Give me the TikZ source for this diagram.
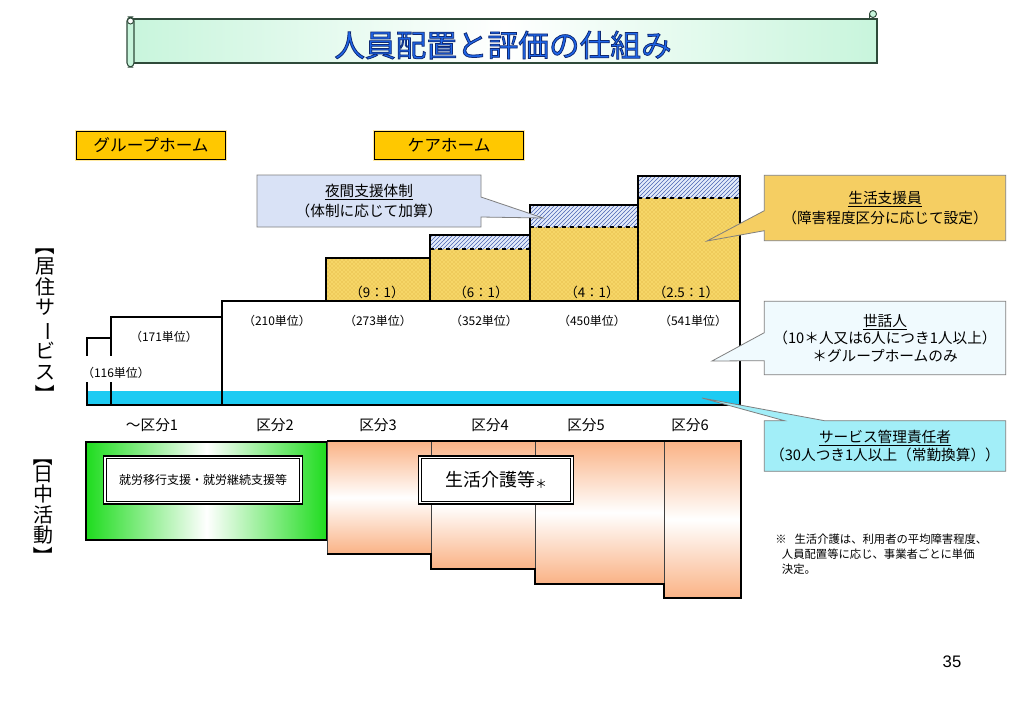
\documentclass[tikz,border=0pt]{standalone}
\usepackage{fontspec}
\setmainfont{Noto Sans CJK JP}
\newfontfamily\titlefont[FakeBold=2.5]{Noto Sans CJK JP}
\newfontfamily\arialfont{Liberation Sans}
\usetikzlibrary{shapes.callouts,patterns}
\definecolor{gold}{HTML}{FFC800}
\definecolor{goldin}{HTML}{FFE9A0}
\definecolor{mint}{HTML}{C8F5DC}
\definecolor{bannerline}{HTML}{2F4A3A}
\definecolor{titleblue}{HTML}{1E66EA}
\definecolor{cyanband}{HTML}{1DCBF3}
\definecolor{ybg}{HTML}{F6D667}
\definecolor{ydot}{HTML}{D8A736}
\definecolor{hbg}{HTML}{E4ECFA}
\definecolor{hline}{HTML}{4A64B4}
\definecolor{nightfill}{HTML}{D9E2F6}
\definecolor{lifefill}{HTML}{F5CE62}
\definecolor{carefill}{HTML}{F0FAFE}
\definecolor{svcfill}{HTML}{A2EEF8}
\definecolor{peach}{HTML}{FAB285}
\definecolor{grn}{HTML}{1EDC1E}
\definecolor{callline}{HTML}{7F7F7F}
\newcommand{\outlinedtitle}[1]{\textcolor{titleblue}{\special{pdf:literal direct 0.06 0.16 0.45 RG}#1}}
\begin{document}
\begin{tikzpicture}[x=0.75pt,y=-0.75pt,
  labelbox/.style={draw=black, double=goldin, double distance=0.9pt, fill=gold, inner sep=0pt,
    minimum width=113pt, minimum height=22pt, font=\fontsize{12.5}{14}\selectfont},
  unitlbl/.style={font=\fontsize{9}{10}\selectfont},
  ratiolbl/.style={font=\fontsize{10}{12}\selectfont},
  kubun/.style={font=\fontsize{11}{13}\selectfont},
  callbox/.style={rectangle callout, draw=callline, line width=0.6pt, align=center, inner sep=0pt},
  thickline/.style={line width=2.2pt, line cap=rect},
  colline/.style={line width=1.3pt},
  whitebox/.style={draw=black, line width=0.9pt, double=white, double distance=1.2pt, fill=white, inner sep=0pt},
  vlabel/.style={font=\fontsize{15}{15.4}\selectfont, align=center, inner sep=0pt},
  vbracket/.style={font=\fontsize{15}{15}\selectfont, inner sep=0pt}
]
\useasboundingbox (0,0) rectangle (1023,708);
\fill[white] (0,0) rectangle (1023,708);

% ---------- banner ----------
\path[draw=bannerline, line width=0.8pt, left color=mint, right color=mint, middle color=white]
  (131,19) rectangle (877,63);
\path[draw=bannerline, line width=0.8pt, fill=mint, rounded corners=3pt] (127,17) rectangle (134,67);
\draw[bannerline, line width=0.7pt, fill=white] (130.5,21) circle (3);
\draw[bannerline, line width=0.7pt, fill=mint] (873,14) circle (3.5);
\draw[bannerline, line width=0.7pt] (869.5,14) -- (869.5,19);
\node[font=\titlefont\fontsize{23}{27}\selectfont] (title) at (503,45) {\outlinedtitle{人員配置と評価の仕組み}};

% ---------- type labels ----------
\node[labelbox] (gh) at (151,145.5) {グループホーム};
\node[labelbox] (ch) at (449,145.5) {ケアホーム};

% ---------- chart ----------
\fill[cyanband] (87,391) rectangle (740,405);
% yellow columns
\foreach \xa/\xb/\yt in {326/430/258, 430/530/249, 530/638/227, 638/740/198}{
  \fill[ybg] (\xa,\yt) rectangle (\xb,301);
  \fill[pattern=crosshatch dots, pattern color=ydot] (\xa,\yt) rectangle (\xb,301);
}
% hatched (night support)
\foreach \xa/\xb/\yt/\yb in {430/530/235/249, 530/638/205/227, 638/740/176/198}{
  \fill[hbg] (\xa,\yt) rectangle (\xb,\yb);
  \fill[pattern=north east lines, pattern color=hline] (\xa,\yt) rectangle (\xb,\yb);
  \draw[dashed, line width=0.8pt] (\xa,\yb) -- (\xb,\yb);
}
\draw[colline] (430,235) -- (430,301);
\draw[colline] (530,205) -- (530,301);
\draw[colline] (638,176) -- (638,301);
% outline
\draw[thickline, line join=miter] (222,405) -- (222,301) -- (326,301) -- (326,258) -- (430,258) -- (430,235)
  -- (530,235) -- (530,205) -- (638,205) -- (638,176) -- (740,176) -- (740,405);
\draw[thickline] (222,301) -- (740,301);
\draw[thickline] (87,405) -- (740,405);
\draw[thickline, line join=miter] (111,355) -- (111,317) -- (222,317);
\draw[thickline] (111,383) -- (111,405);
\draw[thickline, line join=miter] (87,355) -- (87,338) -- (111,338);
\draw[thickline] (87,383) -- (87,405);

% ratio labels
\node[ratiolbl] (r1) at (377,292) {（9：1）};
\node[ratiolbl] (r2) at (481,292) {（6：1）};
\node[ratiolbl] (r3) at (592,292) {（4：1）};
\node[ratiolbl] (r4) at (686,292) {（2.5：1）};
% unit labels
\node[unitlbl] (u116) at (116,373) {（116単位）};
\node[unitlbl] (u171) at (164,337) {（171単位）};
\node[unitlbl] (u210) at (277,321) {（210単位）};
\node[unitlbl] (u273) at (378,321) {（273単位）};
\node[unitlbl] (u352) at (484,321) {（352単位）};
\node[unitlbl] (u450) at (592,321) {（450単位）};
\node[unitlbl] (u541) at (693,321) {（541単位）};
% kubun labels
\node[kubun] (k1) at (152,425) {～区分1};
\node[kubun] (k2) at (275,425) {区分2};
\node[kubun] (k3) at (378,425) {区分3};
\node[kubun] (k4) at (490,425) {区分4};
\node[kubun] (k5) at (586,425) {区分5};
\node[kubun] (k6) at (690,425) {区分6};

% ---------- left vertical labels ----------
\node[vlabel] (res) at (45,319) {居\\住\\サ\\\rotatebox[origin=c]{-90}{ー}\\ビ\\ス};
\node[vbracket] (resa) at (45,245) {\rotatebox{-90}{【}};
\node[vbracket] (resb) at (45,394) {\rotatebox{-90}{】}};
\node[vlabel] (day) at (43,505) {日\\中\\活\\動};
\node[vbracket] (daya) at (43,456) {\rotatebox{-90}{【}};
\node[vbracket] (dayb) at (43,556) {\rotatebox{-90}{】}};

% ---------- day activity ----------
\path[draw=black, line width=1.5pt, left color=grn, right color=grn, middle color=white] (86,442) rectangle (327,540);
\foreach \xa/\xb/\yb in {327/431/554, 431/535/569, 535/664/584, 664/741/598}{
  \path[draw=black!75, line width=0.6pt, top color=peach, bottom color=peach, middle color=white] (\xa,441) rectangle (\xb,\yb);
}
\draw[line width=1.6pt, line join=miter] (327,554) -- (431,554) -- (431,569) -- (535,569) -- (535,584) -- (664,584) -- (664,598) -- (741,598) -- (741,441) -- (327,441);
\draw[line width=1.5pt] (86,442) -- (327,442);
\node[whitebox, minimum width=147pt, minimum height=34pt, font=\fontsize{9}{11}\selectfont] (work) at (203,480) {就労移行支援・就労継続支援等};
\node[whitebox, minimum width=114pt, minimum height=34pt, font=\fontsize{13.5}{15}\selectfont] (life) at (496,480) {生活介護等{\fontsize{9}{9}\selectfont\raisebox{-2pt}{＊}}};

% ---------- callouts ----------
\node[callbox, fill=nightfill, minimum width=168pt, minimum height=39pt,
  font=\fontsize{11}{15}\selectfont, callout absolute pointer={(543,218)}, callout pointer width=15pt]
  (night) at (369,201) {\underline{夜間支援体制}\\（体制に応じて加算）};
\node[callbox, fill=lifefill, minimum width=181pt, minimum height=49pt,
  font=\fontsize{11}{15}\selectfont, callout absolute pointer={(707,241)}, callout pointer width=15pt]
  (lifesup) at (885,208) {\underline{生活支援員}\\（障害程度区分に応じて設定）};
\node[callbox, fill=carefill, minimum width=181pt, minimum height=55pt,
  font=\fontsize{11}{13.2}\selectfont, callout absolute pointer={(712,361)}, callout pointer width=21pt]
  (carer) at (885,338) {\underline{世話人}\\（10＊人又は6人につき1人以上）\\＊グループホームのみ};
\node[callbox, fill=svcfill, minimum width=181pt, minimum height=38pt,
  font=\fontsize{11}{14}\selectfont, callout absolute pointer={(702,398)}, callout pointer width=30pt]
  (svc) at (885,446) {\underline{サービス管理責任者}\\（30人つき1人以上（常勤換算））};

% ---------- footnote ----------
\node[anchor=north west, align=left, inner sep=0pt, font=\fontsize{8.5}{11.3}\selectfont] (note) at (775,534)
  {※\hspace{6pt}生活介護は、利用者の平均障害程度、\\\hspace{5pt}人員配置等に応じ、事業者ごとに単価\\\hspace{5pt}決定。};
\node[font=\arialfont\fontsize{12.5}{14}\selectfont] (page) at (952,662) {35};
\end{tikzpicture}
\end{document}
